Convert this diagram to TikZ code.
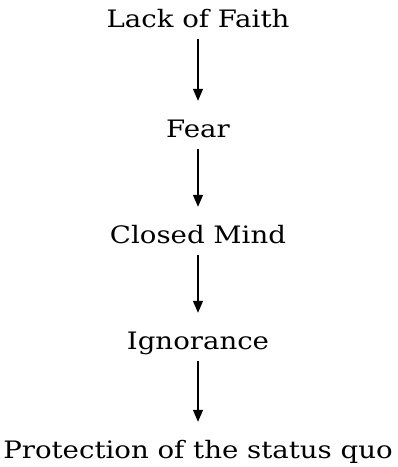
\documentclass[tikz,border=0pt]{standalone}
\usepackage{fontspec}
\setmainfont[FakeStretch=1.15]{DejaVu Serif}
\usetikzlibrary{arrows.meta}
\begin{document}
\begin{tikzpicture}[x=1pt,y=1pt,
  lbl/.style={inner sep=0pt, text height=17pt, text depth=5pt, anchor=base, font=\fontsize{24}{28}\selectfont},
  arr/.style={-{Triangle[width=10pt,length=12pt]}, line width=1.3pt, shorten <=7pt, shorten >=19pt}]
\useasboundingbox (0,0) rectangle (398,-467);
\node[lbl] (a) at (198,-27) {Lack of Faith};
\node[lbl] (b) at (198,-137) {Fear};
\node[lbl] (c) at (198,-243) {Closed Mind};
\node[lbl] (d) at (198,-349) {Ignorance};
\node[lbl] (e) at (198,-458) {Protection of the status quo};
\draw[arr] (a.south) -- (b.north);
\draw[arr] (b.south) -- (c.north);
\draw[arr] (c.south) -- (d.north);
\draw[arr] (d.south) -- (e.north);
\end{tikzpicture}
\end{document}
